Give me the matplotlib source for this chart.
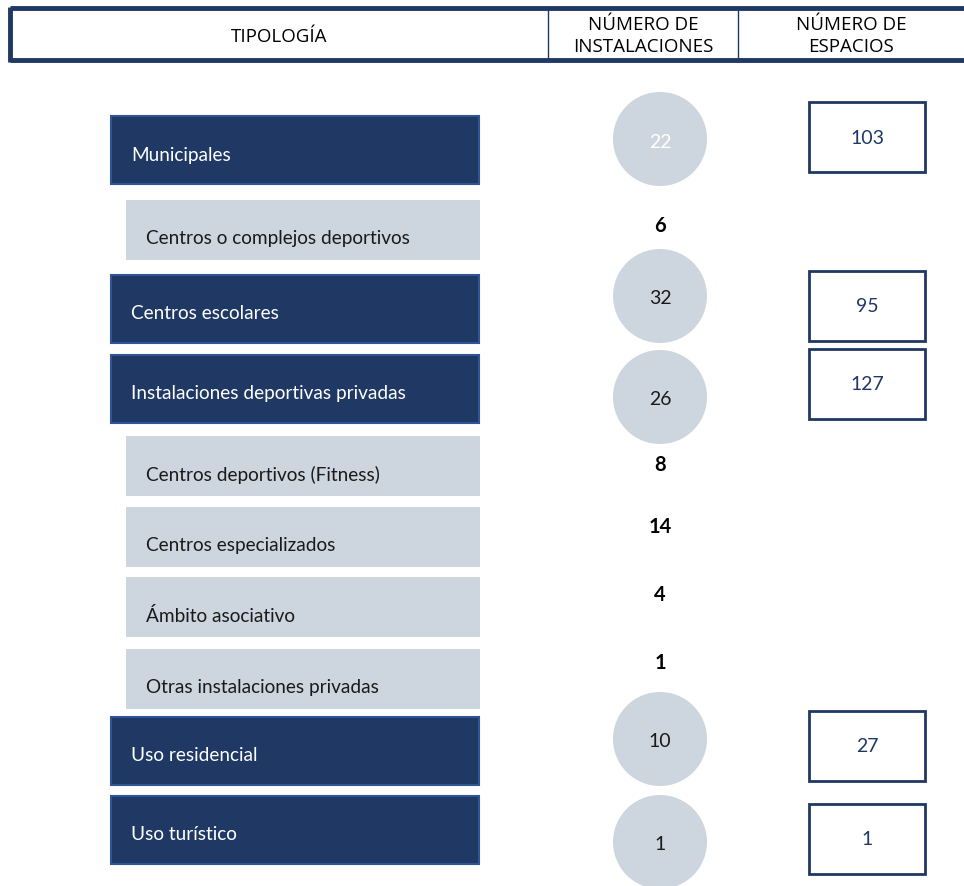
import matplotlib.pyplot as plt
from matplotlib.patches import Rectangle, Circle

# Datos
tipologias = ["Municipales", "Centros o complejos deportivos", "Centros escolares",
              "Instalaciones deportivas privadas", "Centros deportivos (Fitness)",
              "Centros especializados", "Ámbito asociativo",
              "Otras instalaciones privadas", "Uso residencial", "Uso turístico"]
es_grupo = [True, False, True, True, False, False, False, False, True, True]
instalaciones = [22, 6, 32, 26, 8, 14, 4, 1, 10, 1]
espacios = [103, None, 95, 127, None, None, None, None, 27, 1]
cabeceras = ["TIPOLOGÍA", "NÚMERO DE\nINSTALACIONES", "NÚMERO DE\nESPACIOS"]

navy = "#1F3864"
borde = "#2F5597"
gris = "#CDD5DF"

plt.rcParams['font.family'] = ['Lato', 'DejaVu Sans']

fig = plt.figure(figsize=(9.64, 8.87), dpi=100)
ax = fig.add_axes([0, 0, 1, 1])
ax.set_xlim(0, 964)
ax.set_ylim(887, 0)
ax.axis('off')

# Cabecera
ax.plot([10, 964], [9, 9], color=navy, lw=3.5, solid_capstyle='butt')
ax.plot([10, 964], [61, 61], color=navy, lw=3.5, solid_capstyle='butt')
ax.plot([10, 10], [7.5, 62.5], color=navy, lw=3.5, solid_capstyle='butt')
ax.plot([548, 548], [9, 61], color=navy, lw=1)
ax.plot([738, 738], [9, 61], color=navy, lw=1)
hfont = ['Open Sans', 'DejaVu Sans']
ax.text(279, 37, cabeceras[0], ha='center', va='center', fontsize=13.5,
        family=hfont)
ax.text(643, 36, cabeceras[1], ha='center', va='center', fontsize=13.5,
        linespacing=1.3, family=hfont)
ax.text(851, 36, cabeceras[2], ha='center', va='center', fontsize=13.5,
        linespacing=1.3, family=hfont)

# posiciones verticales de cada fila (centro)
filas_y = [151, 231, 310, 390, 467, 538, 608, 680, 752, 831]
circ_y = [140, 226, 297, 398, 465, 527, 595, 663, 740, 843]
esp_y = [138, None, 307, 385, None, None, None, None, 747, 840]

for i, nombre in enumerate(tipologias):
    yc = filas_y[i]
    if es_grupo[i]:
        ax.add_patch(Rectangle((111, yc - 34), 368, 68, facecolor=navy,
                               edgecolor=borde, lw=1.5))
        ax.text(131, yc + 4, nombre, ha='left', va='center', fontsize=13.7,
                color='white')
        # circulo con numero de instalaciones
        ax.add_patch(Circle((660, circ_y[i]), 47, facecolor=gris, edgecolor='none'))
        col = 'white' if i == 0 else '#1a1a1a'
        ax.text(660, circ_y[i] + 2, str(instalaciones[i]), ha='center', va='center',
                fontsize=14, color=col)
    else:
        ax.add_patch(Rectangle((126, yc - 30), 354, 60, facecolor=gris,
                               edgecolor='none'))
        ax.text(146, yc + 8, nombre, ha='left', va='center', fontsize=13.7,
                color='#1a1a1a')
        ax.text(660, circ_y[i], str(instalaciones[i]), ha='center', va='center',
                fontsize=14.5, fontweight='bold', color='black')
    if espacios[i] is not None:
        ey = esp_y[i]
        ax.add_patch(Rectangle((809, ey - 35), 116, 70, facecolor='white',
                               edgecolor=navy, lw=2))
        ax.text(867, ey, str(espacios[i]), ha='center', va='center',
                fontsize=14, color=navy)

fig.savefig("out.png", dpi=100)
